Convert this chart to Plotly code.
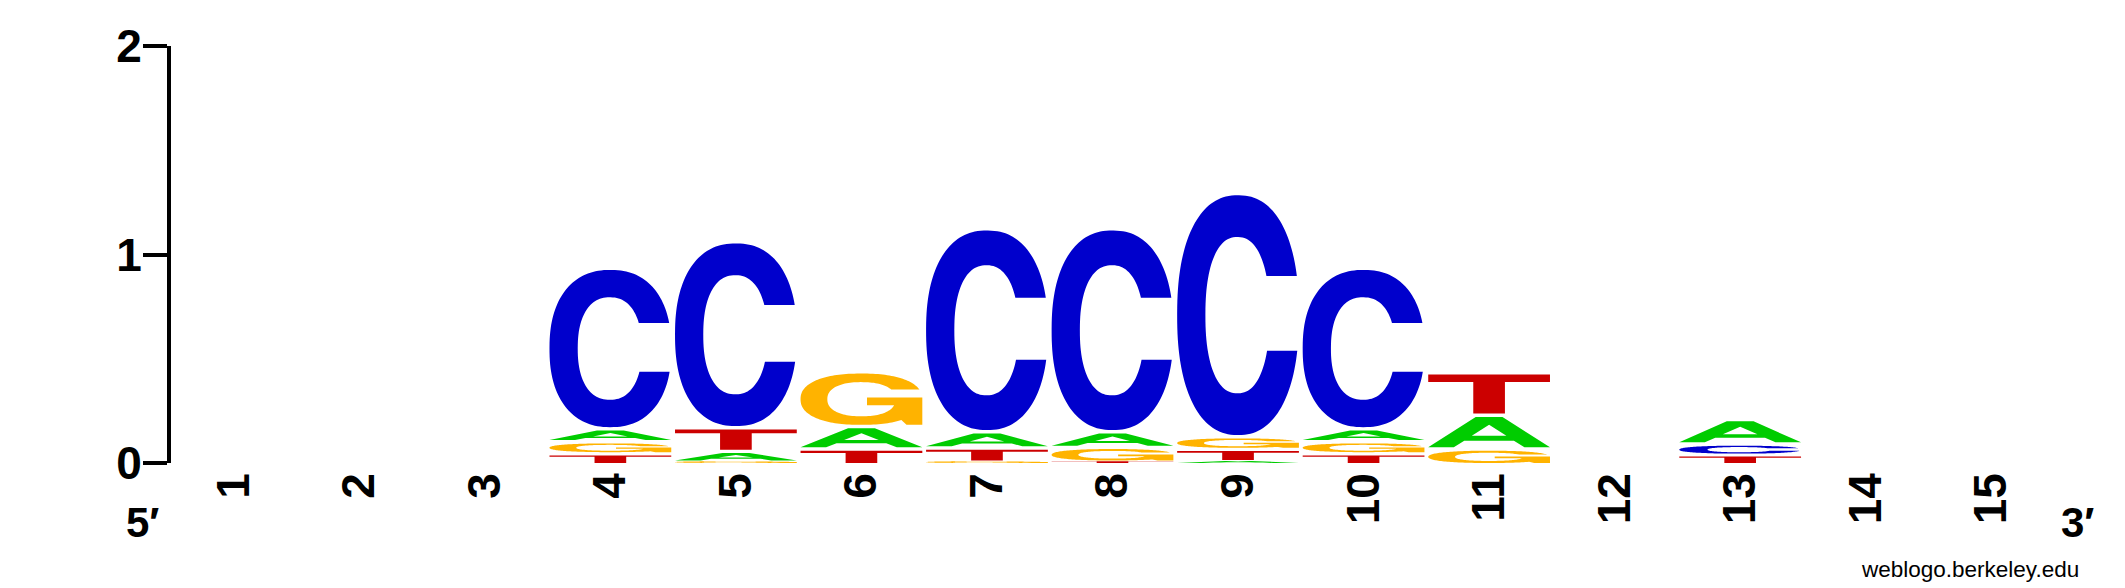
import numpy as np
import plotly.graph_objects as go

# ---------------- data ----------------
positions = list(range(1, 16))
pos_labels = [str(p) for p in positions]
y_ticks = [0, 1, 2]
y_tick_labels = ["0", "1", "2"]

# letter heights (bits) per position
A = [0, 0, 0, 0.062, 0.052, 0.108, 0.078, 0.075, 0.014, 0.062, 0.162, 0, 0.101, 0, 0]
C = [0, 0, 0, 0.754, 0.876, 0, 0.957, 0.957, 1.150, 0.754, 0, 0, 0.054, 0, 0]
G = [0, 0, 0, 0.058, 0.012, 0.246, 0.012, 0.071, 0.061, 0.058, 0.075, 0, 0, 0, 0]
T = [0, 0, 0, 0.052, 0.113, 0.075, 0.068, 0.012, 0.059, 0.052, 0.187, 0, 0.045, 0, 0]

heights = {"A": A, "C": C, "G": G, "T": T}
colors = {"A": "#00CC00", "C": "#0000CC", "G": "#FFB300", "T": "#CC0000"}

# ---------------- glyph templates (unit box) ----------------
N = 2.3


def se(cx, cy, rx, ry, t, n=N):
    c, s = np.cos(t), np.sin(t)
    return (cx + rx * np.sign(c) * np.abs(c) ** (2 / n),
            cy + ry * np.sign(s) * np.abs(s) ** (2 / n))


def t_at(cy, ry, y, n=N):
    v = np.clip((y - cy) / ry, -1, 1)
    return np.arcsin(np.sign(v) * np.abs(v) ** (n / 2))


def glyph_C():
    to, bo = t_at(.5, .5, .663), t_at(.5, .5, .352)
    ox, oy = se(.5, .5, .5, .5, np.linspace(to, 2 * np.pi + bo, 140))
    ti, bi = t_at(.5, .326, .663), t_at(.5, .326, .352)
    ix, iy = se(.495, .5, .263, .326, np.linspace(2 * np.pi + bi, ti, 100))
    return [(np.concatenate([ox, ix]), np.concatenate([oy, iy]))]


def glyph_G():
    to = t_at(.5, .5, .687)
    ox, oy = se(.5, .5, .5, .5, np.linspace(to, 2 * np.pi - np.radians(52), 130))
    sx = np.array([0.87, 1.0, 1.0, 0.546, 0.546])
    sy = np.array([0.0, 0.0, 0.533, 0.533, 0.38])
    ib, it = t_at(.5, .333, .38), t_at(.5, .333, .687)
    ix, iy = se(.5, .5, .28, .333, np.linspace(2 * np.pi + ib, it, 100))
    return [(np.concatenate([ox, sx, ix]), np.concatenate([oy, sy, iy]))]


def glyph_A():
    outer = (np.array([0, .39, .61, 1, .79, .704, .296, .21]),
             np.array([0, 1, 1, 0, 0, .22, .22, 0]))
    hole = (np.array([.358, .5, .642]), np.array([.38, .74, .38]))
    return [outer, hole]


def glyph_T():
    return [(np.array([0, 1, 1, .63, .63, .37, .37, 0]),
             np.array([1, 1, .81, .81, 0, 0, .81, .81]))]


glyphs = {"A": glyph_A(), "C": glyph_C(), "G": glyph_G(), "T": glyph_T()}

LETTER_W = 0.97

shapes = []
for i, p in enumerate(positions):
    stack = sorted([(heights[b][i], b) for b in "ACGT" if heights[b][i] > 0])
    y0 = 0.0
    for k, (h, b) in enumerate(stack):
        gap = 0.0 if k == len(stack) - 1 else min(0.016, 0.3 * h)
        bot, top = y0, y0 + h - gap
        path = ""
        for gx, gy in glyphs[b]:
            X = p - LETTER_W / 2 + gx * LETTER_W
            Y = bot + gy * (top - bot)
            pts = " L ".join(f"{x:.5f},{y:.5f}" for x, y in zip(X, Y))
            path += f"M {pts} Z "
        shapes.append(dict(type="path", path=path, xref="x", yref="y",
                           fillcolor=colors[b], fillrule="evenodd",
                           line=dict(width=0, color="rgba(0,0,0,0)"),
                           layer="above"))
        y0 += h

fig = go.Figure()
fig.add_trace(go.Scatter(x=positions, y=[0] * len(positions), mode="markers",
                         marker=dict(opacity=0), hoverinfo="skip",
                         showlegend=False))

FONT = "Liberation Sans, Arial, sans-serif"
bold = dict(family=FONT, size=46, color="black", weight="bold")

fig.update_layout(
    width=2125, height=588,
    margin=dict(l=163, r=79, t=30, b=133),
    paper_bgcolor="white", plot_bgcolor="white",
    shapes=shapes,
    showlegend=False,
    xaxis=dict(range=[0.5, 15.5], tickvals=positions, ticktext=pos_labels,
               tickangle=-90, ticks="", showline=False, showgrid=False,
               zeroline=False, tickfont=bold, fixedrange=True),
    yaxis=dict(range=[0, 2], tickvals=y_ticks, ticktext=y_tick_labels,
               ticks="outside", ticklen=24, tickwidth=4, tickcolor="black",
               showline=True, linewidth=4, linecolor="black",
               ticklabelstandoff=-8,
               showgrid=False, zeroline=False, tickfont=bold, fixedrange=True),
    annotations=[
        dict(text="5′", xref="paper", yref="paper", x=-0.0154, y=-0.143,
             showarrow=False, xanchor="center", yanchor="middle",
             font=dict(family=FONT, size=42, color="black", weight="bold")),
        dict(text="3′", xref="paper", yref="paper", x=1.0127, y=-0.143,
             showarrow=False, xanchor="center", yanchor="middle",
             font=dict(family=FONT, size=42, color="black", weight="bold")),
        dict(text="weblogo.berkeley.edu", xref="paper", yref="paper",
             x=0.9555, y=-0.2565, showarrow=False, xanchor="center",
             yanchor="middle",
             font=dict(family=FONT, size=22.5, color="black")),
    ],
)

fig.write_html("out.html")
